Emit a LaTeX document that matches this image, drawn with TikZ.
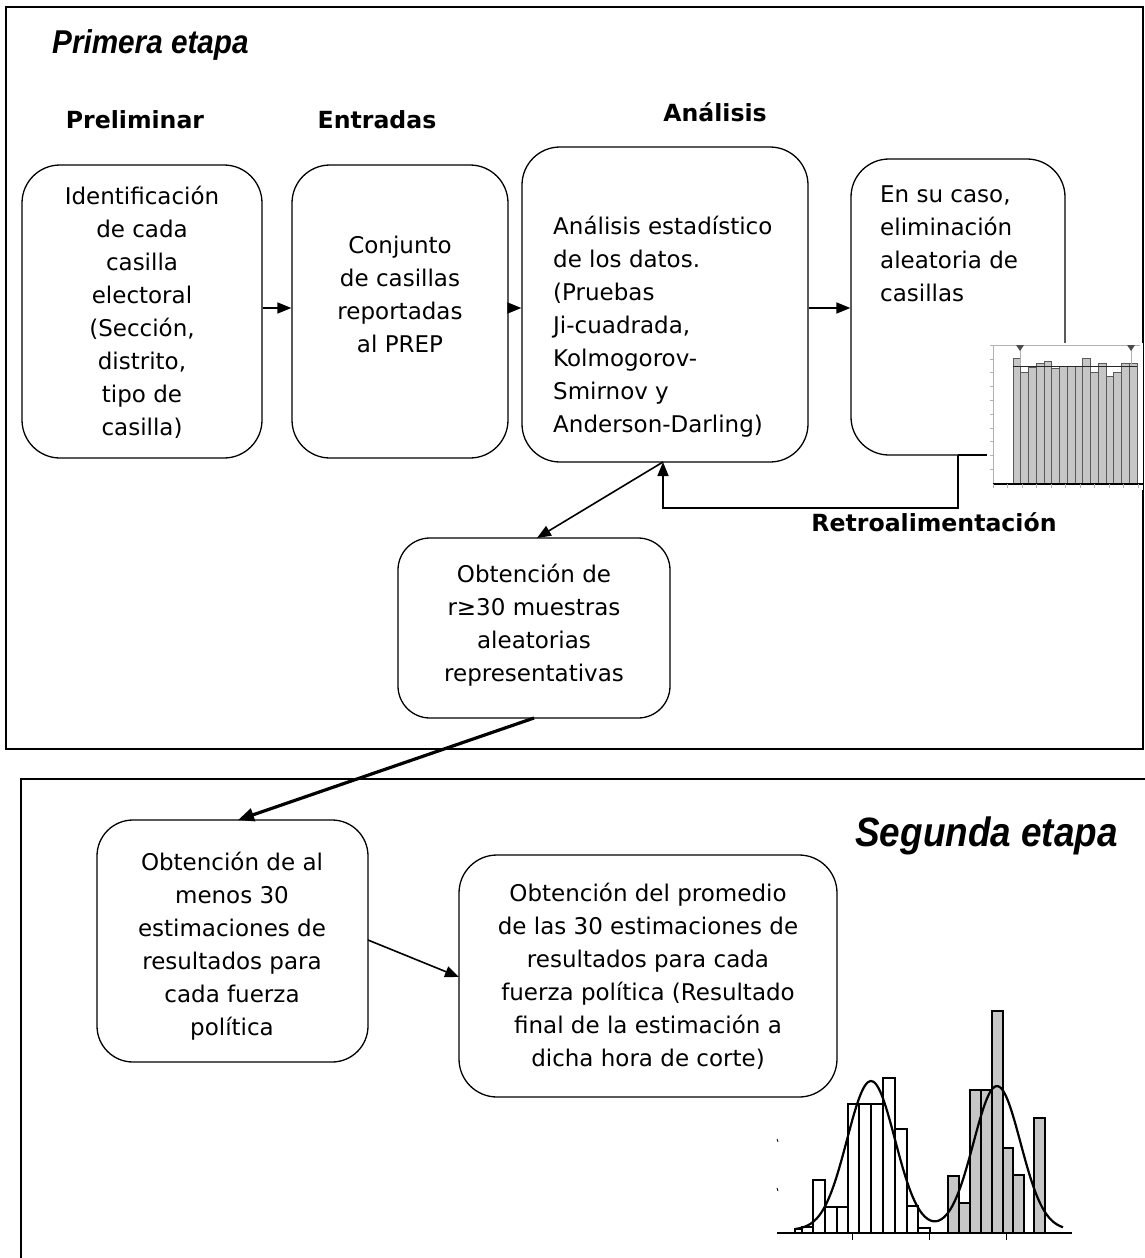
\documentclass[tikz,border=0pt]{standalone}
\usepackage{fontspec}
\setmainfont{DejaVu Sans}
\newfontfamily\titlefont[FakeStretch=0.9]{Liberation Sans}
\usetikzlibrary{arrows.meta}
\tikzset{
  frame/.style={draw, line width=1.3pt},
  box/.style={draw, line width=1.3pt, rounded corners=38pt, inner sep=0pt},
  body/.style={font=\fontsize{23}{33}\selectfont, inner sep=0pt},
  head/.style={font=\fontsize{23.6}{28}\selectfont\bfseries, inner sep=0pt},
  stage/.style={font=\titlefont\bfseries\itshape, inner sep=0pt},
  arr/.style={line width=1.6pt, -{Triangle[length=14pt,width=11pt]}},
  bigarr/.style={line width=3.2pt, -{Triangle[length=16pt,width=13pt]}},
  wbar/.style={draw, line width=1.1pt, fill=white},
  gbar/.style={draw, line width=1.1pt, fill=gray!45},
  tbar/.style={draw=gray!70!black, line width=0.8pt, fill=gray!45},
}
\begin{document}
\begin{tikzpicture}[x=1pt,y=-1pt]
\useasboundingbox (0,0) rectangle (1145,1258);
\clip (0,0) rectangle (1145,1258);
\fill[white] (0,0) rectangle (1145,1258);

% frames
\draw[frame] (6,7) rectangle (1143,749);
\draw[frame] (21,1270) -- (21,779) -- (1160,779);

% stage titles
\node[stage, font=\titlefont\fontsize{33}{36}\selectfont\bfseries\itshape, anchor=west] (st1) at (52,45) {Primera etapa};
\node[stage, font=\titlefont\fontsize{41}{44}\selectfont\bfseries\itshape, anchor=base east] (st2) at (1118,846) {Segunda etapa};

% headings
\node[head] (h1) at (135,120) {Preliminar};
\node[head] (h2) at (377,120) {Entradas};
\node[head] (h3) at (715,112) {Análisis};
\node[head] (h4) at (934,522) {Retroalimentación};

% boxes
\node[box, minimum width=240pt, minimum height=293pt] (b1) at (142,311.5) {};
\node[box, minimum width=216pt, minimum height=293pt] (b2) at (400,311.5) {};
\node[box, minimum width=286pt, minimum height=315pt] (b3) at (665,304.5) {};
\node[box, minimum width=214pt, minimum height=296pt] (b4) at (958,307) {};
\node[box, rounded corners=32pt, minimum width=272pt, minimum height=180pt] (b5) at (534,628) {};
\node[box, rounded corners=36pt, minimum width=271pt, minimum height=242pt] (b6) at (232.5,941) {};
\node[box, rounded corners=38pt, minimum width=378pt, minimum height=242pt] (b7) at (648,976) {};

% box texts
\node[body, align=center] (t1) at (142,312) {Identificación\\de cada\\casilla\\electoral\\(Sección,\\distrito,\\tipo de\\casilla)};
\node[body, align=center] (t2) at (400,294) {Conjunto\\de casillas\\reportadas\\al PREP};
\node[body, align=left, anchor=west] (t3) at (553,327) {Análisis estadístico\\de los datos.\\(Pruebas\\Ji-cuadrada,\\Kolmogorov-\\Smirnov y\\Anderson-Darling)};
\node[body, align=left, anchor=west] (t4) at (880,244) {En su caso,\\eliminación\\aleatoria de\\casillas};
\node[body, align=center] (t5) at (534,625) {Obtención de\\r≥30 muestras\\aleatorias\\representativas};
\node[body, align=center] (t6) at (232,946) {Obtención de al\\menos 30\\estimaciones de\\resultados para\\cada fuerza\\política};
\node[body, align=center] (t7) at (648,976) {Obtención del promedio\\de las 30 estimaciones de\\resultados para cada\\fuerza política (Resultado\\final de la estimación a\\dicha hora de corte)};

% top-right histogram (picture)
\begin{scope}
\fill[white] (986,343) rectangle (1143,490);
\draw[gray!60, line width=0.6pt] (993,345) -- (1140,345);
\draw[gray!60, line width=0.6pt] (993,345) -- (993,484);
\foreach \i in {0,...,9} \draw[gray!60, line width=0.5pt] (990,{345+\i*13.8}) -- (993,{345+\i*13.8});
\foreach \i/\t in {0/358,1/372,2/367,3/363,4/361,5/368,6/366,7/366,8/366,9/358,10/372,11/363,12/376,13/372,14/363,15/363}
  \draw[tbar] ({1013+\i*7.75},483) rectangle ({1013+(\i+1)*7.75},\t);
\draw[gray!30!black, line width=1pt] (1013,366) -- (1137,366);
\draw[gray!60, line width=0.5pt] (1020,345) -- (1020,366) (1131,345) -- (1131,366);
\fill[gray!60!black] (1016,345) -- (1024,345) -- (1020,351) -- cycle;
\fill[gray!60!black] (1127,345) -- (1135,345) -- (1131,351) -- cycle;
\draw[black, line width=1.3pt] (993,484) -- (1143,484);
\foreach \i in {0,...,10} \draw[gray!60, line width=0.5pt] ({993+\i*14.5},484) -- ({993+\i*14.5},488);
\end{scope}

% connectors
\draw[arr] (b1.east |- 0,308) -- (b2.west |- 0,308);
\draw[arr] (b2.east |- 0,308) -- (b3.west |- 0,308);
\draw[arr] (b3.east |- 0,308) -- (b4.west |- 0,308);
\coordinate (fbs) at (958,455);
\coordinate (fbc) at (958,508);
\coordinate (b3a) at (663,462);
\draw[line width=1.6pt] (987,455) -- (fbs);
\draw[arr] (fbs) -- (fbc) -| (b3a);
\coordinate (b5a) at (537,538);
\draw[arr] (b3a) -- (b5a);
\coordinate (b5b) at (534,718);
\coordinate (b6a) at (238,820);
\draw[bigarr] (b5b) -- (b6a);
\coordinate (b6b) at (368,940);
\coordinate (b7a) at (459,977);
\draw[arr] (b6b) -- (b7a);

% bottom-right histogram
\begin{scope}
\foreach \a/\b/\t in {795/802/1229,802/813/1227,813/825/1180,825/837/1207,837/848/1207,848/859/1104,859/871/1104,871/883/1104,883/895/1078,895/907/1129,907/918/1206,918/930/1228}
  \draw[wbar] (\a,1233) rectangle (\b,\t);
\foreach \a/\b/\t in {948/959/1176,959/970/1203,970/981/1090,981/992/1090,992/1003/1011,1003/1013/1148,1013/1024/1175,1034/1045/1118}
  \draw[gbar] (\a,1233) rectangle (\b,\t);
\draw[line width=2.2pt, domain=795:1063, samples=100, smooth]
  plot (\x, {1230 - 149*exp(-((\x-871)/24)^2/2) - 144*exp(-((\x-997)/23.5)^2/2)});
\draw[line width=1.6pt] (777,1233) -- (1072,1233);
\foreach \x in {852,929,1006} \draw[line width=0.8pt] (\x,1233) -- (\x,1240);
\foreach \y in {1139,1188} \draw[line width=0.8pt] (777,\y) -- (778,{\y+3});
\end{scope}
\end{tikzpicture}
\end{document}
